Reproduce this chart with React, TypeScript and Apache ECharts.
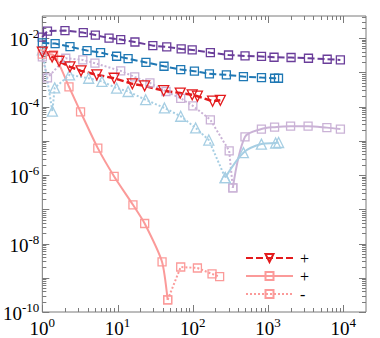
import React, { useEffect, useRef } from 'react';
import * as echarts from 'echarts';

// ---- data ----
const purpleX = [1.0, 1.17, 2.0, 3.5, 5.06, 7.7, 11, 17, 29.4, 45, 70, 98, 171, 298, 494, 817, 1200, 2020, 3440, 6100, 9130];
const purpleY = [1.07e-2, 1.6e-2, 1.65e-2, 1.44e-2, 1.22e-2, 1.0e-2, 9.0e-3, 7.65e-3, 6.0e-3, 5.5e-3, 4.8e-3, 4.5e-3, 3.74e-3, 3.2e-3, 3.0e-3, 2.9e-3, 2.75e-3, 2.7e-3, 2.57e-3, 2.4e-3, 2.3e-3];

const blueX = [1.0, 1.48, 2.33, 3.93, 5.94, 9.7, 13.8, 23.8, 41.4, 69, 105, 166, 279, 470, 817, 1220, 1375];
const blueY = [7.2e-3, 6.9e-3, 5.6e-3, 4.3e-3, 3.74e-3, 2.94e-3, 2.5e-3, 1.94e-3, 1.5e-3, 1.2e-3, 1.08e-3, 9.0e-4, 8.4e-4, 7.5e-4, 7.0e-4, 6.7e-4, 6.7e-4];

const redX = [1.0, 1.35, 1.67, 2.33, 3.27, 5.3, 9.0, 15.7, 22.9, 41, 68, 98, 115, 183, 232];
const redY = [3.9e-3, 2.8e-3, 2.1e-3, 1.44e-3, 1.1e-3, 8.4e-4, 6.7e-4, 4.6e-4, 4.0e-4, 2.9e-4, 2.47e-4, 2.2e-4, 2.0e-4, 1.43e-4, 1.52e-4];

const lavNegX = [1.0, 1.17, 2.05, 3.45, 5.0, 11, 16.9, 26.9, 44, 69, 100, 171, 304, 340];
const lavNegY = [2.8e-3, 6.9e-4, 2.57e-3, 2.3e-3, 1.84e-3, 1.1e-3, 7.3e-4, 4.9e-4, 2.75e-4, 1.74e-4, 1.05e-4, 4.1e-5, 5.1e-6, 4.2e-7];
const lavPosX = [340, 493, 815, 1220, 1990, 3400, 6040, 9140];
const lavPosY = [4.2e-7, 1.3e-5, 2.2e-5, 2.5e-5, 2.67e-5, 2.67e-5, 2.42e-5, 2.2e-5];

const lbNegX = [1.0, 1.36, 1.46, 2.3, 4.13, 6.2, 9.7, 13.8, 23.6, 41.9, 69, 109, 163, 269];
const lbNegY = [4.5e-3, 7.3e-5, 3.5e-4, 8.4e-4, 6.7e-4, 5.4e-4, 3.45e-4, 2.75e-4, 1.58e-4, 9.1e-5, 5.2e-5, 2.37e-5, 1.05e-5, 8.4e-7];
const lbPosX = [269, 470, 815, 1260, 1380];
const lbPosY = [8.4e-7, 4.5e-6, 8.0e-6, 8.6e-6, 8.9e-6];

const salPosX = [1.0, 1.41, 2.26, 3.22, 5.46, 9.0, 16, 22.9, 39, 46.3];
const salPosY = [3.4e-3, 3.2e-3, 3.77e-4, 7.0e-5, 6.1e-6, 9.1e-7, 1.35e-7, 3.84e-8, 2.9e-9, 2.27e-10];
const salNegX = [46.3, 69, 115, 180, 227];
const salNegY = [2.27e-10, 2.06e-9, 1.93e-9, 1.29e-9, 1.08e-9];

const legendNames = ['red+', 'salPos', 'salNeg'];
const legendLabels: Record<string, string> = { 'red+': '+', salPos: '+', salNeg: '-' };

// axis ranges and tick values
const X_MIN = 1;
const X_MAX = 20000;
const Y_MIN = 1e-10;
const Y_MAX = 0.044;
const xDecades = [1, 10, 100, 1000, 10000];
const yDecades = [1e-10, 1e-9, 1e-8, 1e-7, 1e-6, 1e-5, 1e-4, 1e-3, 1e-2];
const minorMult = [2, 3, 4, 5, 6, 7, 8, 9];

const FONT = 'Liberation Serif';
const AXIS_COLOR = '#7a7a7a';

const C = {
  purple: '#6a3d9a',
  blue: '#1f78b4',
  red: '#e31a1c',
  salmon: '#fb9a99',
  lavender: '#cab2d6',
  lightBlue: '#a6cee3',
};

function pairs(xs: number[], ys: number[]) {
  return xs.map((x, i) => [x, ys[i]]);
}

function powLabel(v: number, onlyEven: boolean) {
  const l = Math.log10(v);
  const r = Math.round(l);
  if (Math.abs(l - r) > 1e-6) return '';
  if (onlyEven && r % 2 !== 0) return '';
  return `{b|10}{s|${r}}`;
}

const rich = {
  b: { fontSize: 19, fontFamily: FONT, color: '#000', lineHeight: 22, verticalAlign: 'bottom' },
  s: { fontSize: 13, fontFamily: FONT, color: '#000', lineHeight: 11, verticalAlign: 'top' },
};

function line(
  name: string,
  xs: number[],
  ys: number[],
  color: string,
  symbol: string,
  lineType: any,
  width: number,
  extra: any = {}
) {
  return {
    type: 'line',
    name,
    data: pairs(xs, ys),
    symbol,
    symbolSize: symbol === 'triangle' ? 10 : 8,
    itemStyle: { color: 'rgba(255,255,255,0)', borderColor: color, borderWidth: 1.3 },
    lineStyle: { color, width, type: lineType },
    ...extra,
  };
}

// tick marks (value, axis 0=x 1=y, major flag)
const tickData: number[][] = [];
xDecades.forEach((d) => {
  tickData.push([d, Y_MIN, 0, 1]);
  minorMult.forEach((m) => {
    if (d * m < X_MAX) tickData.push([d * m, Y_MIN, 0, 0]);
  });
});
yDecades.forEach((d) => {
  tickData.push([X_MIN, d, 1, 1]);
  minorMult.forEach((m) => {
    if (d * m < Y_MAX) tickData.push([X_MIN, d * m, 1, 0]);
  });
});

const legendTops = [250, 268, 286];

const option: any = {
  animation: false,
  grid: { left: 38, top: 16, right: 14, bottom: 24, show: true, borderColor: AXIS_COLOR, borderWidth: 1 },
  xAxis: {
    type: 'log',
    logBase: 10,
    min: X_MIN,
    max: X_MAX,
    axisLine: { show: false },
    axisTick: { show: false },
    splitLine: { show: false },
    axisLabel: { margin: 4, formatter: (v: number) => powLabel(v, false), rich },
  },
  yAxis: {
    type: 'log',
    logBase: 10,
    min: Y_MIN,
    max: Y_MAX,
    axisLine: { show: false },
    axisTick: { show: false },
    splitLine: { show: false },
    axisLabel: { margin: 3, formatter: (v: number) => powLabel(v, true), rich },
  },
  legend: legendNames.map((n, i) => ({
    data: [n],
    orient: 'vertical',
    left: 245,
    top: legendTops[i],
    padding: 0,
    itemWidth: 47,
    itemHeight: 10,
    selectedMode: false,
    formatter: (nm: string) => legendLabels[nm],
    textStyle: { fontFamily: FONT, fontSize: 16, lineHeight: 14, color: '#000', padding: [0, 0, 0, 2] },
  })),
  series: [
    {
      type: 'custom',
      name: 'ticks',
      silent: true,
      clip: false,
      data: tickData,
      renderItem: (params: any, api: any) => {
        const cs = params.coordSys;
        const isY = api.value(2) === 1;
        const len = api.value(3) === 1 ? 7 : 4;
        const style = { stroke: AXIS_COLOR, lineWidth: 1 };
        if (!isY) {
          const p = api.coord([api.value(0), Y_MIN]);
          const x = Math.round(p[0]) + 0.5;
          const yb = cs.y + cs.height;
          return {
            type: 'group',
            children: [
              { type: 'line', shape: { x1: x, y1: yb, x2: x, y2: yb - len }, style },
              { type: 'line', shape: { x1: x, y1: cs.y, x2: x, y2: cs.y + len }, style },
            ],
          };
        }
        const p = api.coord([X_MIN, api.value(1)]);
        const y = Math.round(p[1]) + 0.5;
        const xr = cs.x + cs.width;
        return {
          type: 'group',
          children: [
            { type: 'line', shape: { x1: cs.x, y1: y, x2: cs.x + len, y2: y }, style },
            { type: 'line', shape: { x1: xr, y1: y, x2: xr - len, y2: y }, style },
          ],
        };
      },
    },
    line('purple', purpleX, purpleY, C.purple, 'rect', [7, 3], 2),
    line('blue', blueX, blueY, C.blue, 'rect', [7, 3], 2),
    line('lavNeg', lavNegX, lavNegY, C.lavender, 'rect', [2, 2], 2),
    line('lavPos', lavPosX, lavPosY, C.lavender, 'rect', 'solid', 2, { smooth: 0.3 }),
    line('lbNeg', lbNegX, lbNegY, C.lightBlue, 'triangle', [2, 2], 2),
    line('lbPos', lbPosX, lbPosY, C.lightBlue, 'triangle', 'solid', 2, { smooth: 0.3 }),
    line('salPos', salPosX, salPosY, C.salmon, 'rect', 'solid', 2, { smooth: 0.2 }),
    line('salNeg', salNegX, salNegY, C.salmon, 'rect', [2, 2], 2),
    line('red+', redX, redY, C.red, 'triangle', [7, 3], 2.5, { symbolRotate: 180 }),
  ],
};

export default function App() {
  const ref = useRef<HTMLDivElement>(null);
  useEffect(() => {
    const chart = echarts.init(ref.current!, null, { renderer: 'svg' });
    chart.setOption(option);
    return () => chart.dispose();
  }, []);
  return (
    <div
      ref={ref}
      style={{ position: 'absolute', left: 0, top: 0, width: 380, height: 338, background: '#fff' }}
    />
  );
}
